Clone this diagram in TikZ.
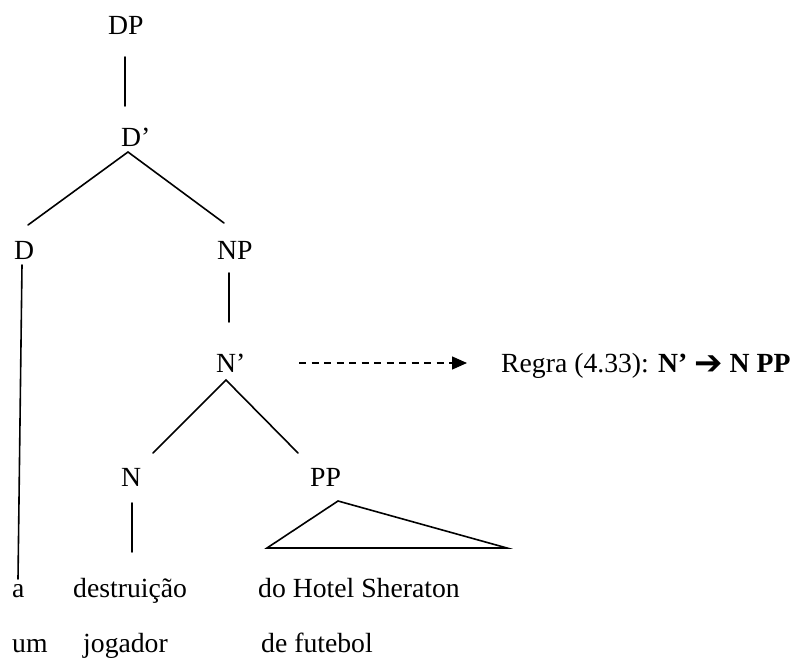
\documentclass[tikz,border=0pt]{standalone}
\usepackage{fontspec}
\setmainfont{Liberation Serif}
\newfontfamily\arrowfont{DejaVu Sans}
\usetikzlibrary{arrows.meta}
\begin{document}
\begin{tikzpicture}[x=1pt,y=-1pt,
  lbl/.style={anchor=base west,inner sep=0pt,font=\fontsize{27.7}{30}\selectfont},
  branch/.style={line width=1.6pt,line cap=round}]
\useasboundingbox (0,0) rectangle (793,660);
% labels
\node[lbl] (DP) at (108,35) {DP};
\node[lbl] (Dbar) at (121,147) {D’};
\node[lbl] (D) at (14,260) {D};
\node[lbl] (NP) at (217,260) {NP};
\node[lbl] (Nbar) at (216,373) {N’};
\node[lbl] (N) at (121,486) {N};
\node[lbl] (PP) at (310,486) {PP};
\node[lbl] (a) at (12,597) {a};
\node[lbl] (destr) at (73,597) {destruição};
\node[lbl] (hotel) at (258,597) {do Hotel Sheraton};
\node[lbl] (um) at (12,652) {um};
\node[lbl] (jog) at (83,652) {jogador};
\node[lbl] (fut) at (261,652) {de futebol};
\node[lbl] (rule) at (501,373) {Regra (4.33): \textbf{N’ \raisebox{-1.5pt}{\arrowfont\fontsize{34}{34}\selectfont ➔} N PP}};
% connector end points
\coordinate (dpB) at (125,57);
\coordinate (dbT) at (125,106);
\coordinate (dbA) at (128,152);
\coordinate (dL) at (28,225);
\coordinate (npT) at (224,223);
\coordinate (dB) at (22,265);
\coordinate (aT) at (18,579);
\coordinate (npB) at (229,273);
\coordinate (nbT) at (229,322);
\coordinate (nbA) at (226,380);
\coordinate (nT) at (153,453);
\coordinate (ppT) at (298,453);
\coordinate (nB) at (132,503);
\coordinate (destrT) at (132,552);
\coordinate (triA) at (338,501);
\coordinate (triL) at (267,548);
\coordinate (triR) at (507,548);
\coordinate (arS) at (299,363);
\coordinate (arE) at (467,363);
% branches
\draw[branch] (dpB) -- (dbT);
\draw[branch] (dL) -- (dbA) -- (npT);
\draw[branch] (dB) -- (aT);
\draw[branch] (npB) -- (nbT);
\draw[branch] (nT) -- (nbA) -- (ppT);
\draw[branch] (nB) -- (destrT);
\draw[branch,line join=miter,line cap=butt] (triA) -- (triL) -- (triR) -- cycle;
\draw[line width=1.4pt,dash pattern=on 7pt off 5.5pt,-{Triangle[length=15pt,width=13pt]}] (arS) -- (arE);
\end{tikzpicture}
\end{document}
